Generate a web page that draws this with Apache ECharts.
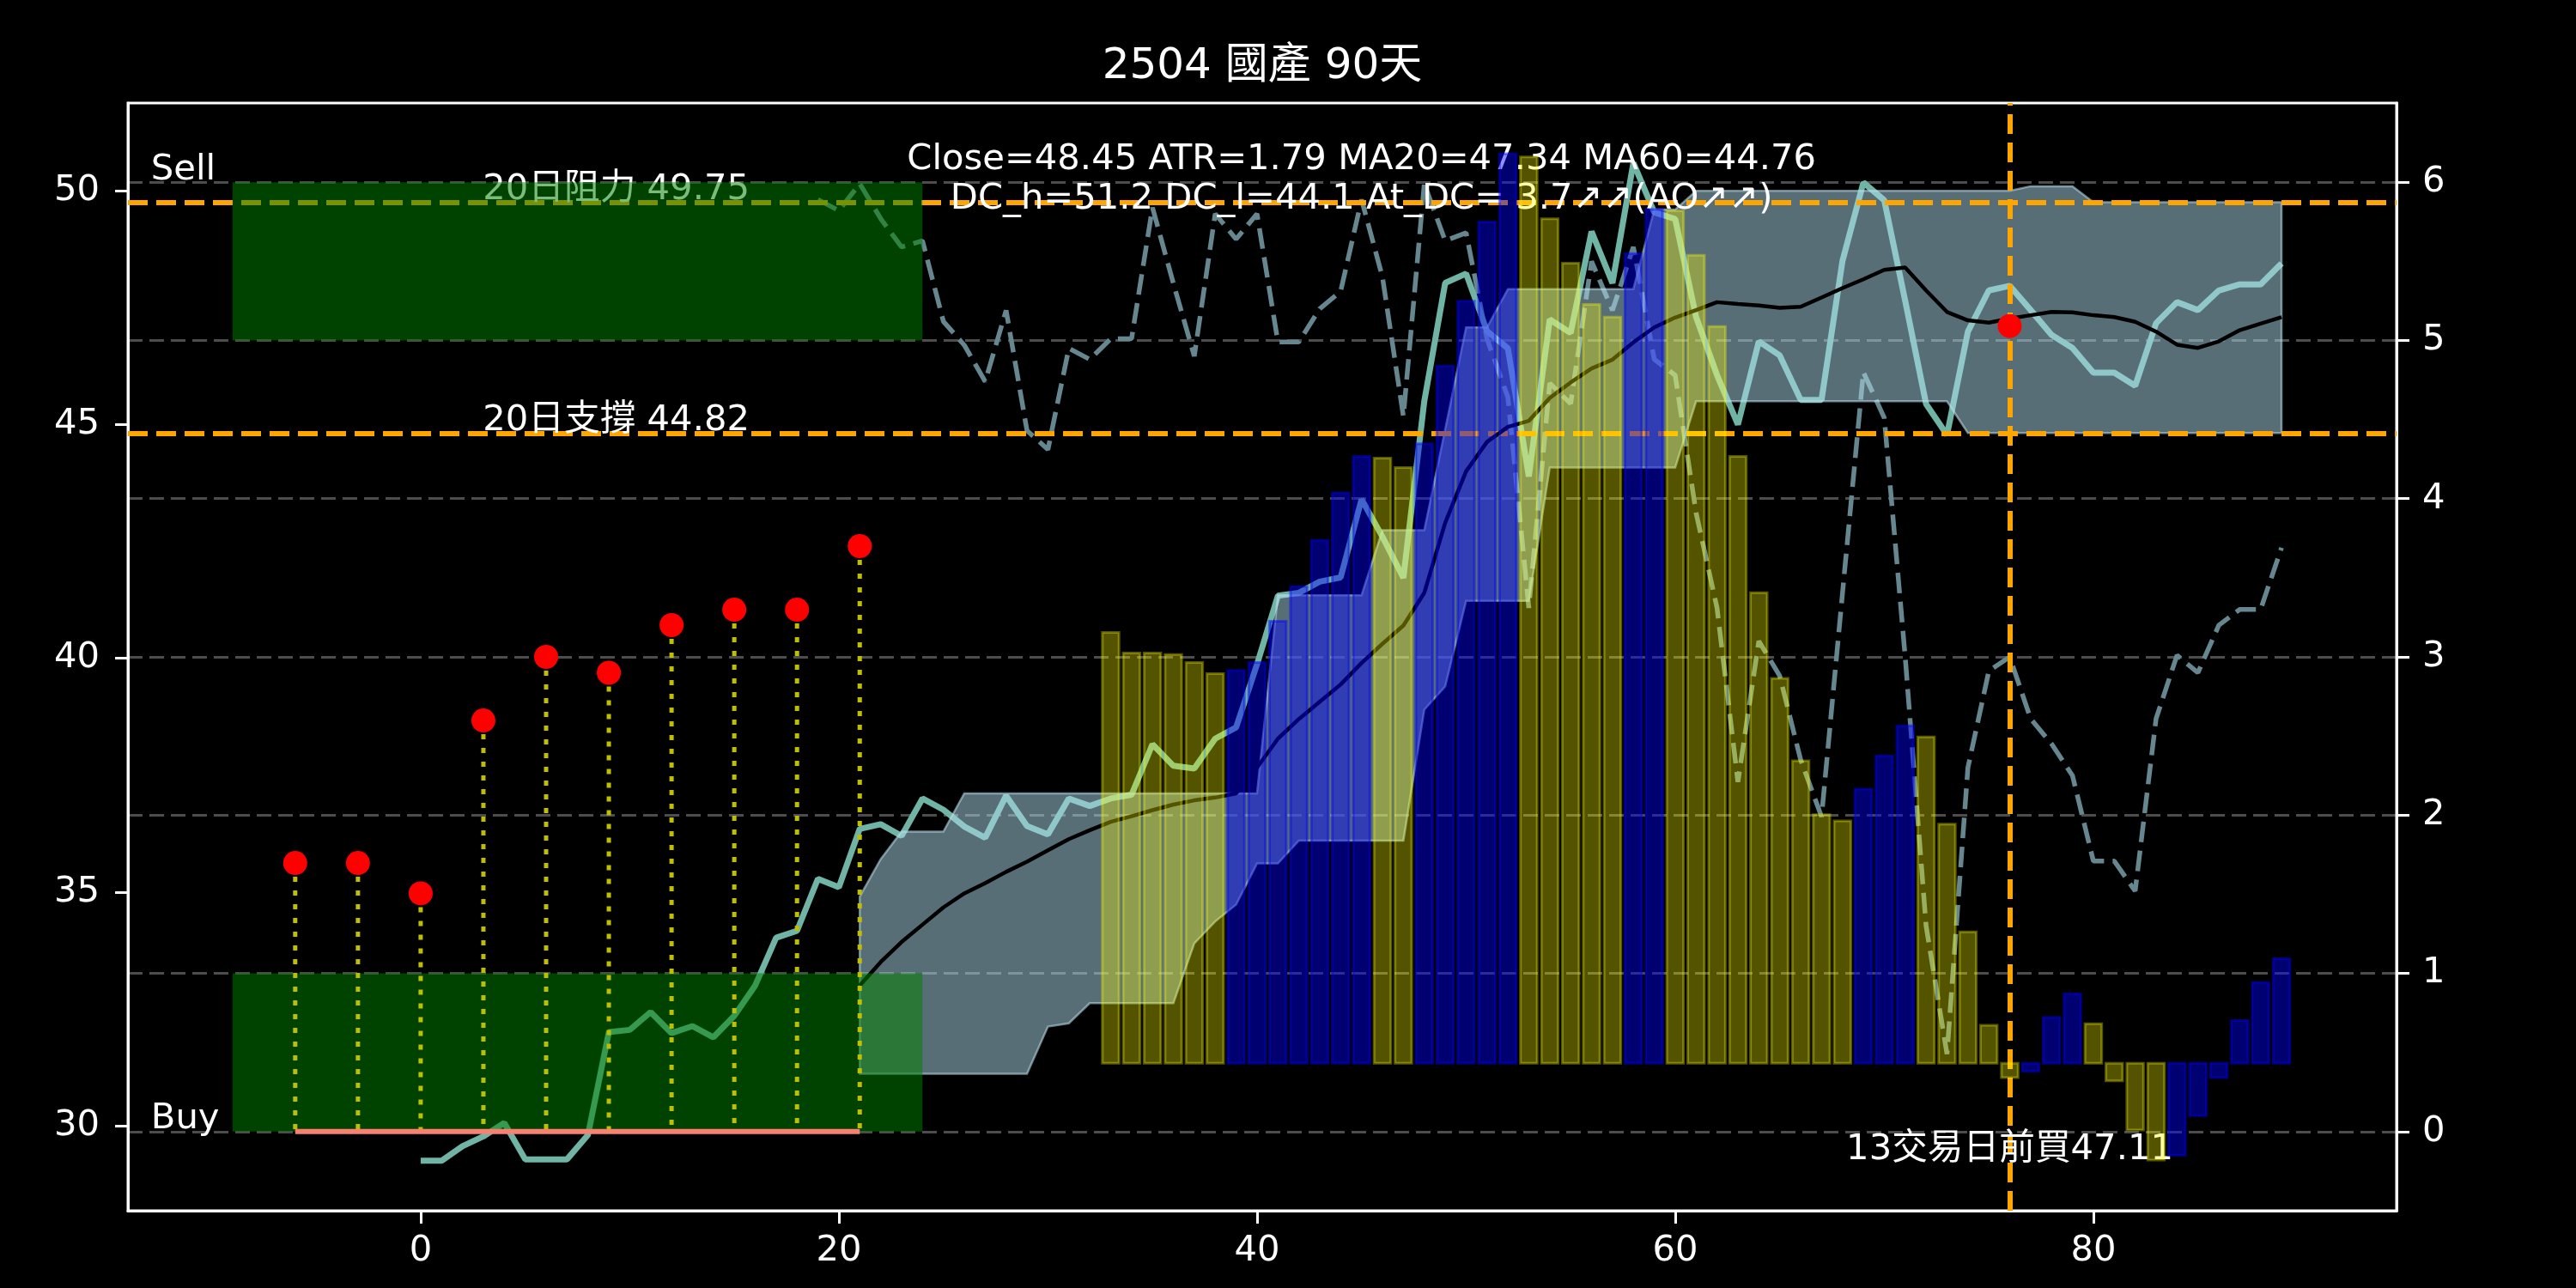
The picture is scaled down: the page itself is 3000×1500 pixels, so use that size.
<!DOCTYPE html>
<html><head><meta charset="utf-8">
<script src="https://cdn.jsdelivr.net/npm/echarts@6/dist/echarts.min.js"></script>
<style>html,body{margin:0;padding:0;background:#000}#c{width:3000px;height:1500px}</style>
</head><body><div id="c"></div>
<script>
// ---------------- data ----------------
const titleText = '2504 國產 90天';
const xTicks = [0, 20, 40, 60, 80];
const leftTicks = [30, 35, 40, 45, 50];
const rightTicks = [0, 1, 2, 3, 4, 5, 6];

const closeStart = 0;
const close = [
  29.25,29.25,29.56,29.77,30.06,29.28,29.28,29.28,29.8,32.0,
  32.05,32.43,31.98,32.13,31.89,32.35,33.0,34.02,34.17,35.28,
  35.1,36.35,36.45,36.2,37.0,36.76,36.4,36.16,37.06,36.41,
  36.23,37.0,36.84,37.0,37.08,38.16,37.7,37.64,38.28,38.52,
  39.87,41.34,41.4,41.64,41.73,43.4,42.6,41.72,45.5,48.03,
  48.23,47.0,46.63,43.89,47.25,46.96,49.13,48.03,50.6,49.54,
  49.4,47.3,46.06,45.0,46.78,46.48,45.53,45.53,48.5,50.18,
  49.8,47.65,45.44,44.78,46.99,47.87,47.97,47.45,46.92,46.64,
  46.11,46.11,45.83,47.17,47.62,47.45,47.87,48.0,48.0,48.45
];

const ma20Start = 21;
const ma20 = [
  33.0,33.5,33.93,34.3,34.67,34.97,35.19,35.43,35.65,
  35.89,36.13,36.32,36.5,36.62,36.75,36.87,36.96,37.02,37.11,
  37.66,38.28,38.7,39.07,39.44,39.9,40.31,40.7,41.4,42.9,
  44.0,44.63,44.95,45.08,45.57,45.9,46.2,46.39,46.76,47.08,
  47.29,47.45,47.62,47.58,47.55,47.5,47.52,47.72,47.92,48.11,
  48.31,48.36,47.87,47.41,47.23,47.18,47.27,47.34,47.41,47.4,
  47.34,47.3,47.2,46.99,46.71,46.64,46.78,47.02,47.16,47.3
];

const dcStart = 21;
const dcUpper = [
  34.9,35.7,36.29,36.29,36.29,
  37.11,37.11,37.11,37.11,37.11,37.11,37.11,37.11,37.11,37.11,37.11,37.11,37.11,37.11,37.11,
  41.35,41.35,41.35,41.35,41.35,
  42.74,42.74,42.74,
  44.9,
  47.08,47.08,
  47.9,47.9,47.9,47.9,47.9,47.9,47.9,
  49.6,49.6,
  50.0,50.0,50.0,50.0,50.0,50.0,50.0,50.0,50.0,50.0,50.0,50.0,50.0,50.0,50.0,50.0,
  50.1,50.1,50.1,
  49.76,49.76,49.76,49.76,49.76,49.76,49.76,49.76,49.76,49.76
];
const dcLower = [
  31.11,31.11,31.11,31.11,31.11,31.11,31.11,31.11,31.11,
  32.12,32.19,
  32.62,32.62,32.62,32.62,32.62,
  33.9,34.37,34.73,
  35.61,35.61,
  36.1,36.1,36.1,36.1,36.1,36.1,
  38.9,39.4,
  41.23,41.23,41.23,41.23,
  44.08,44.08,44.08,44.08,44.08,44.08,44.08,
  45.5,45.5,45.5,45.5,45.5,45.5,45.5,45.5,45.5,45.5,45.5,45.5,45.5,
  44.82,44.82,44.82,44.82,44.82,44.82,44.82,44.82,44.82,44.82,44.82,44.82,44.82,44.82,44.82,44.82
];

const aoStart = 33;
const ao = [
  2.72,2.59,2.59,2.58,2.53,2.46,2.48,2.53,2.79,3.01,
  3.30,3.60,3.83,3.82,3.76,3.91,4.40,4.81,5.31,5.74,
  5.72,5.33,5.05,4.79,4.71,5.11,5.39,5.38,5.10,4.65,
  3.83,2.97,2.43,1.91,1.57,1.53,1.73,1.94,2.13,2.06,
  1.51,0.83,0.24,-0.09,-0.05,0.29,0.44,0.25,-0.11,-0.42,
  -0.61,-0.58,-0.33,-0.09,0.27,0.51,0.66
];

const oscStart = 19;
const osc = [
  5.89,5.82,5.99,5.77,5.59,5.63,5.12,4.97,4.74,5.19,
  4.43,4.31,4.95,4.88,5.01,5.01,5.84,5.36,4.9,5.80,
  5.64,5.80,4.99,4.99,5.20,5.31,5.89,5.4,4.52,5.99,
  5.63,5.68,5.01,4.64,3.31,4.73,4.60,5.5,5.19,5.59,
  4.88,4.78,3.91,3.31,2.21,3.10,2.88,2.35,1.99,3.4,
  4.80,4.51,3.0,1.3,0.49,2.30,2.91,3.0,2.61,2.45,
  2.25,1.71,1.71,1.52,2.61,3.01,2.90,3.20,3.30,3.30,
  3.69
];

const sigX = [-6, -3, 0, 3, 6, 9, 12, 15, 18, 21];
const sigPrice = [35.62, 35.62, 34.97, 38.67, 40.03, 39.69, 40.71, 41.04, 41.04, 42.40];
const buyLineX = [-6, 21];
const zoneX = [-9, 24];
const buyZone = [0, 1];
const sellZone = [5, 6];
const resistance = 49.75;
const support = 44.82;
const lastBuyX = 76;
const lastBuyPrice = 47.11;
const infoLines = ['Close=48.45 ATR=1.79 MA20=47.34 MA60=44.76', 'DC_h=51.2 DC_l=44.1 At_DC= 3.7\u2197\u2197(AO\u2197\u2197)'];
const labelSell = 'Sell', labelBuy = 'Buy';
const labelRes = '20日阻力 49.75', labelSup = '20日支撐 44.82';
const labelLastBuy = '13交易日前買47.11';

// ---------------- chart ----------------
const FONT = "'DejaVu Sans','Noto Sans CJK TC','Noto Sans CJK SC',sans-serif";
const FS = 41.7;
const BL = 0.346 * FS;   // middle -> alphabetic baseline shift
const AX = {xMin: -14, xMax: 94.5, lMin: 28.18, lMax: 51.88, rMin: -0.5, rMax: 6.5, bMin: -0.93, bMax: 6.06};
const G = {left: 149, right: 209, top: 120, bottom: 90};
const pts = (start, arr) => arr.map((v, i) => [start + i, v]);
const stemBase = AX.lMin + (0 - AX.rMin) * (AX.lMax - AX.lMin) / (AX.rMax - AX.rMin);

function textSeries(yIdx, z, items) {
  return {
    type: 'custom', xAxisIndex: 0, yAxisIndex: yIdx, z: z, silent: true, clip: false,
    encode: {x: 0, y: 1},
    data: items.map((it, i) => [it.x, it.y, i]),
    renderItem: (params, api) => {
      const it = items[api.value(2)];
      const p = api.coord([it.x, it.y]);
      return {
        type: 'text', x: p[0], y: p[1] + (it.dy || 0),
        style: {
          text: it.text, fill: it.color || '#fff', font: FS + 'px ' + FONT,
          fontSize: FS, fontFamily: FONT,
          align: it.align || 'center', verticalAlign: it.valign || 'middle',
          textAlign: it.align || 'center', textVerticalAlign: it.valign || 'middle'
        }
      };
    }
  };
}

const ticksStyle = {length: 15, lineStyle: {color: '#fff', width: 3}};
const labelStyle = {color: '#fff', fontSize: FS, fontFamily: FONT};
const axisLineStyle = {show: true, onZero: false, lineStyle: {color: '#fff', width: 3}};

const option = {
  backgroundColor: '#000',
  animation: false,
  grid: {left: G.left, right: G.right, top: G.top, bottom: G.bottom, show: true,
         borderColor: '#fff', borderWidth: 3, containLabel: false, outerBoundsMode: 'none'},
  graphic: [{
    type: 'text', x: G.left + (3000 - G.left - G.right) / 2, y: 95 - 0.346 * 50,
    style: {text: titleText, fill: '#fff', font: '50px ' + FONT, fontSize: 50, fontFamily: FONT,
            align: 'center', verticalAlign: 'middle', textAlign: 'center', textVerticalAlign: 'middle'}
  }],
  xAxis: {
    type: 'value', min: AX.xMin, max: AX.xMax, position: 'bottom',
    axisLine: axisLineStyle,
    axisTick: Object.assign({show: true, customValues: xTicks}, ticksStyle),
    axisLabel: Object.assign({show: true, customValues: xTicks, margin: 26}, labelStyle),
    splitLine: {show: false}
  },
  yAxis: [
    {type: 'value', position: 'left', min: AX.lMin, max: AX.lMax,
     axisLine: axisLineStyle,
     axisTick: Object.assign({show: true, customValues: leftTicks}, ticksStyle),
     axisLabel: Object.assign({show: true, customValues: leftTicks, margin: 33}, labelStyle),
     splitLine: {show: false}},
    {type: 'value', position: 'right', min: AX.rMin, max: AX.rMax,
     axisLine: axisLineStyle,
     axisTick: Object.assign({show: true, customValues: rightTicks}, ticksStyle),
     axisLabel: Object.assign({show: true, customValues: rightTicks, margin: 30}, labelStyle),
     splitLine: {show: false}},
    {type: 'value', min: AX.bMin, max: AX.bMax, show: false, splitLine: {show: false}}
  ],
  series: [
    // grid lines (right axis ticks)
    {type: 'line', xAxisIndex: 0, yAxisIndex: 1, data: [], z: 1, silent: true,
     markLine: {z: 1, silent: true, symbol: ['none', 'none'], label: {show: false}, animation: false,
                lineStyle: {color: 'rgba(255,255,255,0.3)', type: [17, 8], width: 3},
                emphasis: {disabled: true},
                data: rightTicks.map(v => ({yAxis: v}))}},
    // oscillator dashed (right axis)
    {type: 'line', xAxisIndex: 0, yAxisIndex: 1, z: 2, showSymbol: false, silent: true,
     data: pts(oscStart, osc), lineStyle: {color: '#66878f', width: 5.5, type: [24, 10]}},
    // close
    {type: 'line', xAxisIndex: 0, yAxisIndex: 0, z: 2, showSymbol: false, silent: true,
     data: pts(closeStart, close), lineStyle: {color: '#70b4a6', width: 7}},
    // donchian band
    {type: 'custom', xAxisIndex: 0, yAxisIndex: 0, z: 3, silent: true, encode: {x: 0, y: 1},
     data: [[dcStart, dcLower[0]]],
     renderItem: (params, api) => {
       const up = dcUpper.map((v, i) => api.coord([dcStart + i, v]));
       const lo = dcLower.map((v, i) => api.coord([dcStart + i, v])).reverse();
       return {type: 'polygon', shape: {points: up.concat(lo)},
               style: {fill: 'rgba(176,220,235,0.5)', stroke: 'rgba(190,226,238,0.55)', lineWidth: 2.5}};
     }},
    // MA20
    {type: 'line', xAxisIndex: 0, yAxisIndex: 0, z: 4, showSymbol: false, silent: true,
     data: pts(ma20Start, ma20), lineStyle: {color: '#000', width: 4.5}},
    // orange lines
    {type: 'line', xAxisIndex: 0, yAxisIndex: 0, data: [], z: 4, silent: true,
     markLine: {z: 4, silent: true, symbol: ['none', 'none'], label: {show: false}, animation: false,
                lineStyle: {color: '#ffa500', type: [23, 10], width: 6},
                emphasis: {disabled: true},
                data: [{yAxis: resistance}, {yAxis: support}, {xAxis: lastBuyX}]}},
    // info texts (under bars)
    textSeries(0, 4.5, [
      {x: 45, y: 50.40, text: infoLines[0], dy: -BL},
      {x: 45, y: 49.55, text: infoLines[1], dy: -BL}
    ]),
    textSeries(1, 4.5, [
      {x: lastBuyX, y: 0, text: labelLastBuy, valign: 'top', dy: 0}
    ]),
    // bars
    {type: 'custom', xAxisIndex: 0, yAxisIndex: 2, z: 5, silent: true, encode: {x: 0, y: 1},
     data: ao.map((v, i) => [aoStart + i, v, (i > 0 && v > ao[i - 1]) ? 1 : 0]),
     renderItem: (params, api) => {
       const x = api.value(0), v = api.value(1);
       const p0 = api.coord([x - 0.4, 0]);
       const p1 = api.coord([x + 0.4, v]);
       const c = api.value(2) ? 'rgba(0,0,255,0.44)' : 'rgba(255,255,0,0.33)';
       return {type: 'rect',
               shape: {x: p0[0], y: Math.min(p0[1], p1[1]), width: p1[0] - p0[0], height: Math.abs(p1[1] - p0[1])},
               style: {fill: c, stroke: c, lineWidth: 3}};
     }},
    // support / resistance labels (under green zone)
    textSeries(0, 5.5, [
      {x: 9.35, y: resistance, text: labelRes, dy: -BL},
      {x: 9.35, y: support, text: labelSup, dy: -BL}
    ]),
    // green zones
    {type: 'custom', xAxisIndex: 0, yAxisIndex: 1, z: 6, silent: true, encode: {x: [0, 1], y: [2, 3]},
     data: [[zoneX[0], zoneX[1], buyZone[0], buyZone[1]], [zoneX[0], zoneX[1], sellZone[0], sellZone[1]]],
     renderItem: (params, api) => {
       const a = api.coord([api.value(0), api.value(3)]);
       const b = api.coord([api.value(1), api.value(2)]);
       return {type: 'rect', shape: {x: a[0], y: a[1], width: b[0] - a[0], height: b[1] - a[1]},
               style: {fill: 'rgba(0,128,0,0.52)'}};
     }},
    // stems
    {type: 'custom', xAxisIndex: 0, yAxisIndex: 0, z: 7, silent: true, encode: {x: 0, y: 1},
     data: sigX.map((x, i) => [x, sigPrice[i]]),
     renderItem: (params, api) => {
       const a = api.coord([api.value(0), api.value(1)]);
       const b = api.coord([api.value(0), stemBase]);
       return {type: 'line', shape: {x1: a[0], y1: a[1], x2: b[0], y2: b[1]},
               style: {stroke: '#bfbf00', lineWidth: 5, lineDash: [6, 10]}};
     }},
    // salmon buy line
    {type: 'line', xAxisIndex: 0, yAxisIndex: 1, z: 7, showSymbol: false, silent: true,
     data: [[buyLineX[0], 0], [buyLineX[1], 0]], lineStyle: {color: '#fa8072', width: 6}},
    // red dots
    {type: 'scatter', xAxisIndex: 0, yAxisIndex: 0, z: 8, silent: true, symbolSize: 28,
     itemStyle: {color: '#ff0000', opacity: 1, borderWidth: 0},
     data: sigX.map((x, i) => [x, sigPrice[i]]).concat([[lastBuyX, lastBuyPrice]])},
    // Sell / Buy
    textSeries(1, 9, [
      {x: -12.9, y: 6, text: labelSell, align: 'left', dy: -BL},
      {x: -12.9, y: 0, text: labelBuy, align: 'left', dy: -BL}
    ])
  ]
};

const chart = echarts.init(document.getElementById('c'), null, {renderer: 'canvas', width: 3000, height: 1500});
chart.setOption(option);
</script>
</body></html>
